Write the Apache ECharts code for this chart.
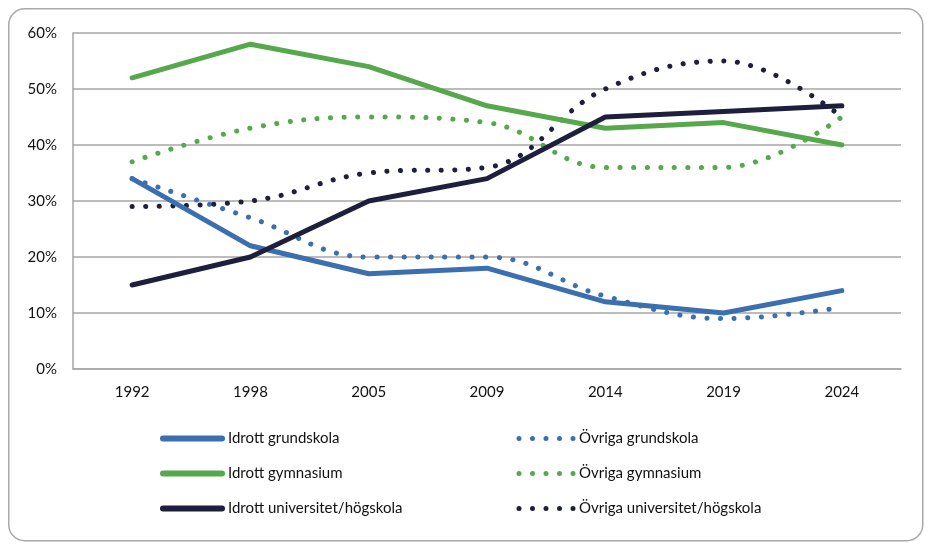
<!DOCTYPE html>
<html>
<head>
<meta charset="utf-8">
<script src="https://cdn.jsdelivr.net/npm/echarts@6/dist/echarts.min.js"></script>
<style>
html,body{margin:0;padding:0;background:#fff;}
#chart{width:932px;height:550px;}
</style>
</head>
<body>
<div id="chart"></div>
<script>
const years = ['1992','1998','2005','2009','2014','2019','2024'];
const idrottGrundskola = [34, 22, 17, 18, 12, 10, 14];
const idrottGymnasium = [52, 58, 54, 47, 43, 44, 40];
const idrottUniversitet = [15, 20, 30, 34, 45, 46, 47];
const ovrigaGrundskola = [34, 27, 20, 20, 13, 9, 11];
const ovrigaGymnasium = [37, 43, 45, 44, 36, 36, 45];
const ovrigaUniversitet = [29, 30, 35, 36, 50, 55, 45];
const yTicks = [0, 10, 20, 30, 40, 50, 60];

const BLUE = '#3b6fb0', GREEN = '#55a84b', NAVY = '#1d1f3d';
const FONT = 'Lato';

const SOLID_ICON = 'path://M3,0 L62,0 A3,3 0 0,1 62,6 L3,6 A3,3 0 0,1 3,0 Z';
let dots = '';
for (let i = 0; i < 5; i++) {
  const cx = 3 + i * 13.5;
  dots += 'M' + (cx - 2.5) + ',3 A2.5,2.5 0 1,0 ' + (cx + 2.5) + ',3 A2.5,2.5 0 1,0 ' + (cx - 2.5) + ',3 Z ';
}
const DOT_ICON = 'path://M0,0 M60,6 ' + dots.trim();

function solid(name, data, color) {
  return { name, type: 'line', data, symbol: 'none', smooth: false,
    lineStyle: { color, width: 5, cap: 'round', join: 'round' }, itemStyle: { color } };
}
function dotted(name, data, color) {
  return { name, type: 'line', data, symbol: 'none', smooth: 0.4,
    lineStyle: { color, width: 5, type: [0.1, 13.5], cap: 'round' }, itemStyle: { color } };
}

const chart = echarts.init(document.getElementById('chart'), null, { renderer: 'canvas' });
chart.setOption({
  animation: false,
  backgroundColor: '#fff',
  textStyle: { fontFamily: FONT },
  graphic: [{
    type: 'rect', left: 8, top: 8, z: -10,
    shape: { width: 914, height: 532, r: 16 },
    style: { fill: '#fff', stroke: '#a9a9a9', lineWidth: 1.5 }
  }],
  grid: { left: 73, right: 31, top: 33, bottom: 181, containLabel: false },
  xAxis: {
    type: 'category', data: years, boundaryGap: true,
    axisTick: { show: false },
    axisLine: { lineStyle: { color: '#a6a6a6', width: 1.5 } },
    axisLabel: { color: '#111', fontSize: 15, margin: 16, fontFamily: FONT }
  },
  yAxis: {
    type: 'value', min: yTicks[0], max: yTicks[yTicks.length - 1], interval: 10,
    axisLine: { show: true, lineStyle: { color: '#a6a6a6', width: 1.5 } },
    axisTick: { show: false },
    axisLabel: { color: '#111', fontSize: 15, margin: 16, formatter: '{value}%', fontFamily: FONT },
    splitLine: { lineStyle: { color: '#a6a6a6', width: 1.5 } }
  },
  legend: [{
    orient: 'vertical', left: 155, top: 425, itemWidth: 65, itemHeight: 6, itemGap: 18,
    data: [
      { name: 'Idrott grundskola', icon: SOLID_ICON },
      { name: 'Idrott gymnasium', icon: SOLID_ICON },
      { name: 'Idrott universitet/högskola', icon: SOLID_ICON }
    ],
    textStyle: { color: '#111', fontSize: 15, lineHeight: 17, fontFamily: FONT, padding: [0, 0, 0, -2] },
    selectedMode: false
  }, {
    orient: 'vertical', left: 511, top: 425, itemWidth: 60, itemHeight: 6, itemGap: 18,
    data: [
      { name: 'Övriga grundskola', icon: DOT_ICON },
      { name: 'Övriga gymnasium', icon: DOT_ICON },
      { name: 'Övriga universitet/högskola', icon: DOT_ICON }
    ],
    textStyle: { color: '#111', fontSize: 15, lineHeight: 17, fontFamily: FONT, padding: [0, 0, 0, -2] },
    selectedMode: false
  }],
  series: [
    dotted('Övriga grundskola', ovrigaGrundskola, BLUE),
    dotted('Övriga gymnasium', ovrigaGymnasium, GREEN),
    dotted('Övriga universitet/högskola', ovrigaUniversitet, NAVY),
    solid('Idrott grundskola', idrottGrundskola, BLUE),
    solid('Idrott gymnasium', idrottGymnasium, GREEN),
    solid('Idrott universitet/högskola', idrottUniversitet, NAVY)
  ]
});
</script>
</body>
</html>
